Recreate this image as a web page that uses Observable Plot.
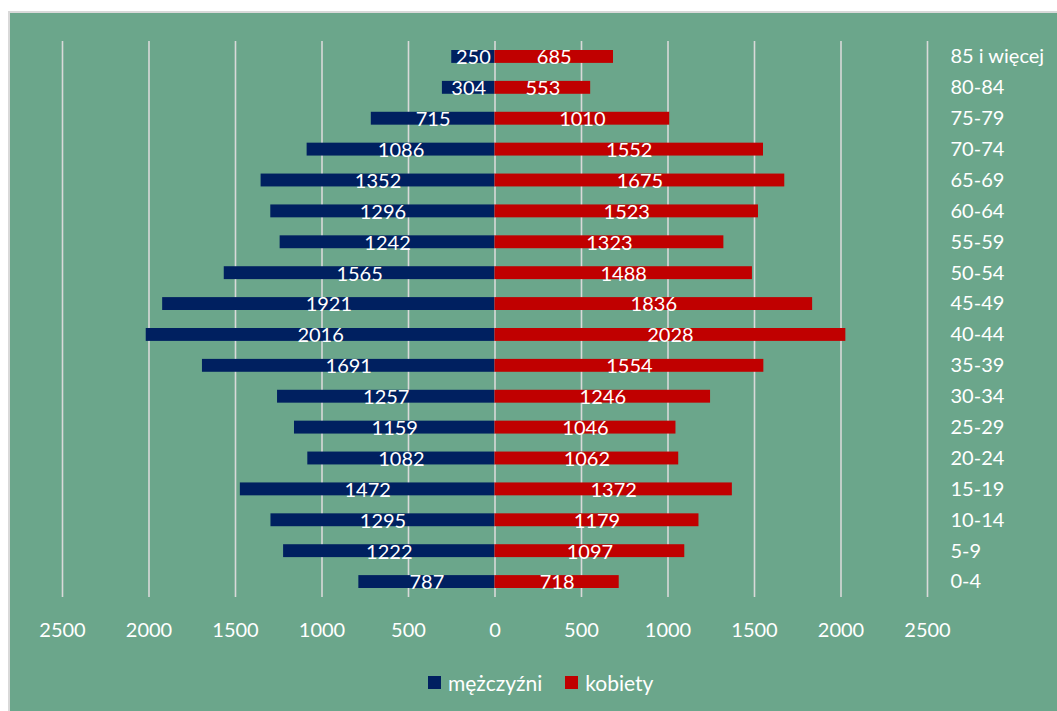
<!DOCTYPE html>
<html lang="pl">
<head>
<meta charset="utf-8">
<script src="https://cdn.jsdelivr.net/npm/d3@7"></script>
<script src="https://cdn.jsdelivr.net/npm/@observablehq/plot@0.6"></script>
<style>
  html, body { margin: 0; padding: 0; background: #ffffff; }
  #panel {
    position: absolute; left: 8px; top: 11px;
    width: 1047px; height: 698px;
    background: #6ba68b;
    border: 2px solid #d9d9d9;
    border-right: none; border-bottom: none;
    font-family: Lato, "Open Sans", sans-serif;
    overflow: hidden;
  }
  #legend {
    position: relative; height: 26px; margin-top: 16px;
    display: flex; align-items: center; color: #ffffff;
    padding-left: 418px; font-size: 21px;
  }
  #legend .sw { width: 13px; height: 13px; display: inline-block; margin-right: 7px; }
  #legend .item { display: flex; align-items: center; margin-right: 23px; }
</style>
</head>
<body>
<div id="panel">
  <div id="chart"></div>
  <div id="legend"></div>
</div>
<script>
// Age groups, youngest first
const ages = ["0-4", "5-9", "10-14", "15-19", "20-24", "25-29", "30-34", "35-39", "40-44",
              "45-49", "50-54", "55-59", "60-64", "65-69", "70-74", "75-79", "80-84", "85 i więcej"];
// Men per age group
const men = [787, 1222, 1295, 1472, 1082, 1159, 1257, 1691, 2016,
             1921, 1565, 1242, 1296, 1352, 1086, 715, 304, 250];
// Women per age group
const women = [718, 1097, 1179, 1372, 1062, 1046, 1246, 1554, 2028,
               1836, 1488, 1323, 1523, 1675, 1552, 1010, 553, 685];
// Series names and colours
const seriesNames = ["mężczyźni", "kobiety"];
const seriesColors = ["#002060", "#c00000"];
// Axis ticks (men plotted to the left as negative values)
const xTicks = [-2500, -2000, -1500, -1000, -500, 0, 500, 1000, 1500, 2000, 2500];

const rows = [];
ages.forEach((a, i) => {
  rows.push({age: a, sex: seriesNames[0], value: -men[i], label: String(men[i])});
  rows.push({age: a, sex: seriesNames[1], value: women[i], label: String(women[i])});
});

const chart = Plot.plot({
  width: 1047,
  height: 640,
  marginLeft: 52,
  marginRight: 130,
  marginTop: 28,
  marginBottom: 56,
  style: {background: "transparent", color: "#ffffff", fontFamily: "Lato, 'Open Sans', sans-serif", fontSize: "20px"},
  x: {domain: [-2500, 2500], axis: null},
  y: {domain: ages.slice().reverse(), padding: 0, round: false},
  color: {domain: seriesNames, range: seriesColors},
  marks: [
    Plot.gridX(xTicks, {stroke: "#d9d9d9", strokeOpacity: 1, strokeWidth: 1.6}),
    Plot.barX(rows, {y: "age", x: "value", fill: "sex", insetTop: 9, insetBottom: 9}),
    Plot.text(rows, {y: "age", x: d => d.value / 2, text: "label", fill: "#ffffff", fontSize: 20, dy: 1}),
    Plot.axisY({anchor: "right", tickSize: 0, tickPadding: 23, textAnchor: "start", fontSize: 20, label: null}),
    // Bottom tick labels, shown as absolute values
    Plot.text(xTicks, {
      x: d => d, frameAnchor: "bottom", lineAnchor: "middle", dy: 33,
      text: d => String(Math.abs(d)), fill: "#ffffff", fontSize: 20
    })
  ]
});
document.getElementById("chart").appendChild(chart);

// Legend
const legend = document.getElementById("legend");
seriesNames.forEach((name, i) => {
  const item = document.createElement("span");
  item.className = "item";
  const sw = document.createElement("span");
  sw.className = "sw";
  sw.style.background = seriesColors[i];
  const label = document.createElement("span");
  label.textContent = name;
  item.appendChild(sw);
  item.appendChild(label);
  legend.appendChild(item);
});
</script>
</body>
</html>
